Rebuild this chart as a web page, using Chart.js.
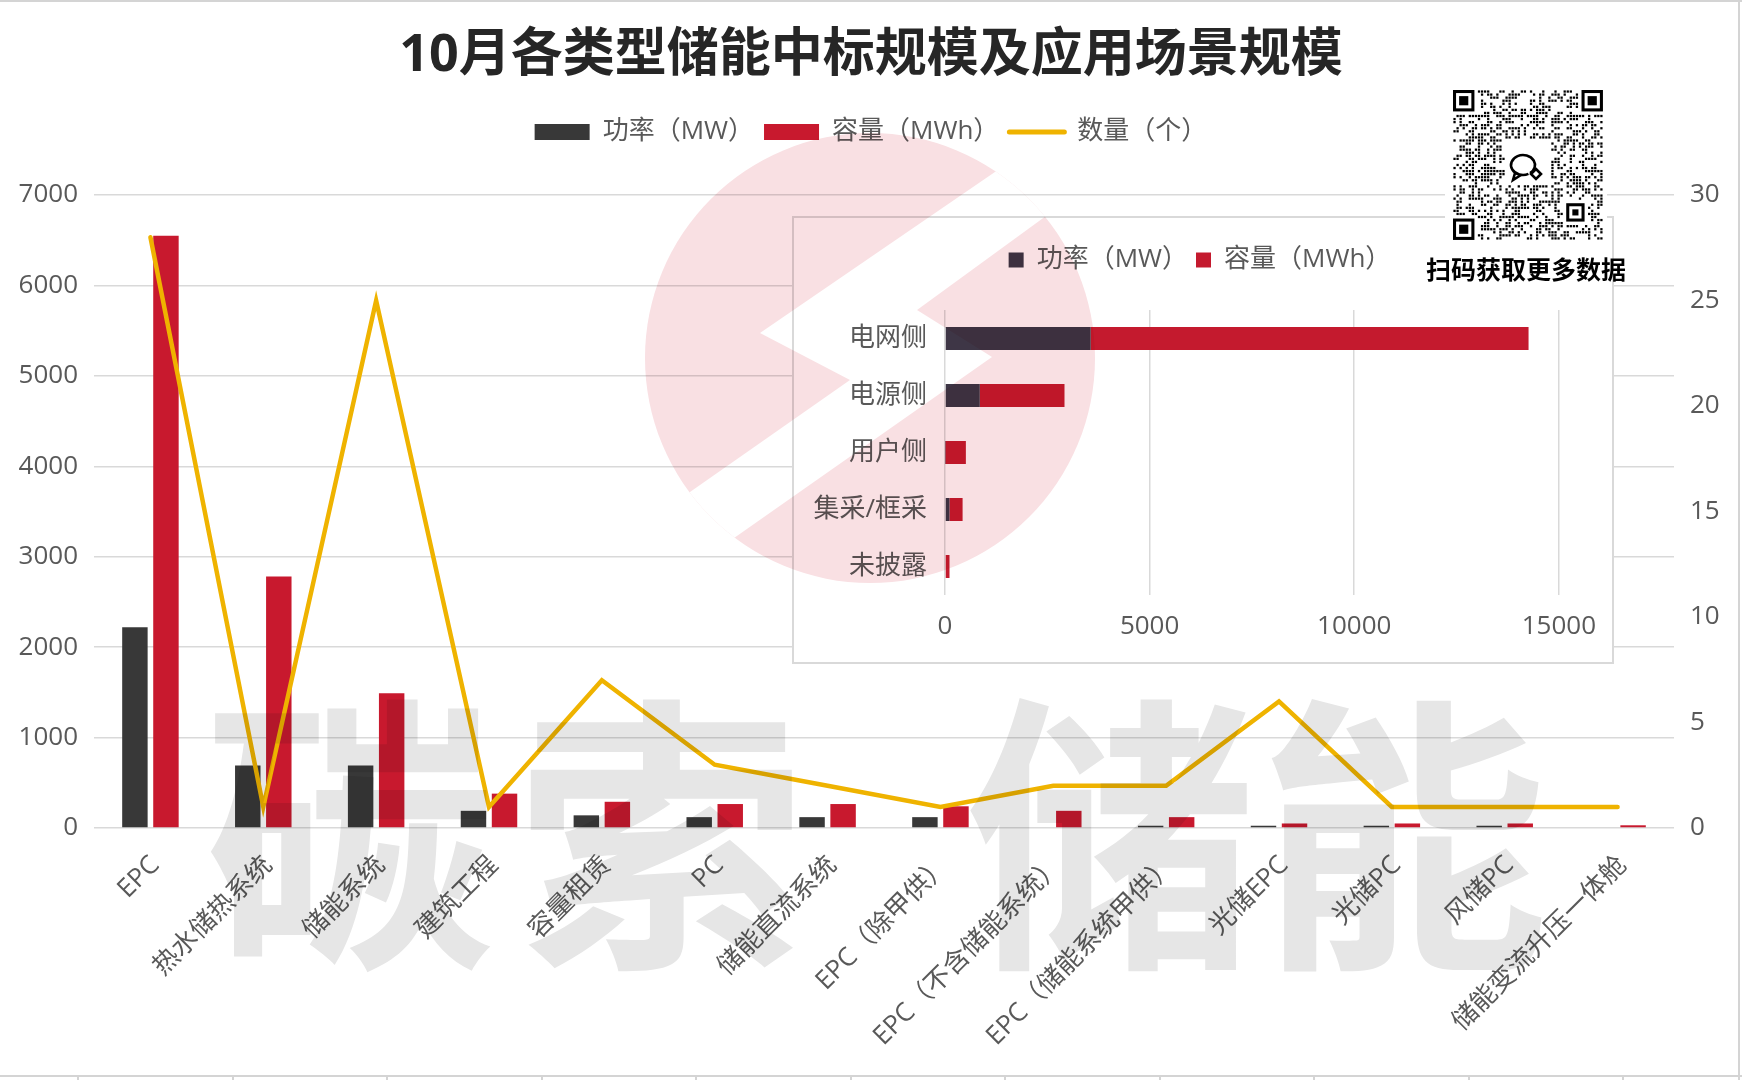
<!DOCTYPE html>
<html lang="zh-CN">
<head>
<meta charset="utf-8">
<title>10月各类型储能中标规模及应用场景规模</title>
<script src="https://cdn.jsdelivr.net/npm/chart.js@4.4.1/dist/chart.umd.min.js"></script>
<style>
  html, body { margin: 0; padding: 0; background: #fff; }
  body { width: 1742px; height: 1080px; position: relative; overflow: hidden; font-family: "Noto Sans CJK SC", sans-serif; }
  #main { position: absolute; left: 0; top: 0; }
  #insetBox { position: absolute; left: 792px; top: 216px; width: 822px; height: 448px; box-sizing: border-box; border: 2px solid #d9d9d9; background: #fff; }
  #inset { position: absolute; left: 0; top: 0; }
  #qr { position: absolute; left: 1445px; top: 85px; }
  #qrCaption { position: absolute; left: 1406px; top: 251px; width: 240px; text-align: center; font: bold 25px "Noto Sans CJK SC", sans-serif; color: #000; line-height: 34px; background: transparent; }
  .wm { position: absolute; font: bold 290px/290px "Noto Sans CJK SC", sans-serif; color: #e6e6e6; mix-blend-mode: multiply; pointer-events: none; width: 290px; text-align: center; }
  #logo { position: absolute; left: 0; top: 0; mix-blend-mode: multiply; pointer-events: none; }
  .frame { position: absolute; background: #d4d4d4; }
</style>
</head>
<body>
<canvas id="main" width="1742" height="1080"></canvas>
<div id="insetBox"><canvas id="inset" width="818" height="444"></canvas></div>
<canvas id="qr" width="162" height="162"></canvas>
<div id="qrCaption">扫码获取更多数据</div>
<div class="wm" style="left:205px; top:675px;">碳</div>
<div class="wm" style="left:516px; top:675px;">索</div>
<div class="wm" style="left:966px; top:675px;">储</div>
<div class="wm" style="left:1258px; top:675px;">能</div>
<canvas id="logo" width="1742" height="1080"></canvas>
<div class="frame" style="left:0; top:0; width:1742px; height:2px;"></div>
<div class="frame" style="left:1738px; top:0; width:2px; height:1080px;"></div>
<div class="frame" style="left:0; top:1075px; width:1742px; height:2px;"></div>
<div id="ticksBottom"></div>
<script>
// ---------------- data ----------------
const chartTitle = '10月各类型储能中标规模及应用场景规模';
const categories = ['EPC', '热水储热系统', '储能系统', '建筑工程', '容量租赁', 'PC', '储能直流系统',
  'EPC（除甲供）', 'EPC（不含储能系统）', 'EPC（储能系统甲供）', '光储EPC', '光储PC', '风储PC', '储能变流升压一体舱'];
const powerMW     = [2220, 690, 690, 190, 140, 120, 120, 120, 0, 25, 25, 25, 25, 0];
const capacityMWh = [6550, 2780, 1490, 380, 290, 265, 265, 240, 190, 120, 50, 50, 50, 30];
const countGe     = [28, 1, 25, 1, 7, 3, 2, 1, 2, 2, 6, 1, 1, 1];
const seriesNames = ['功率（MW）', '容量（MWh）', '数量（个）'];
const leftTickLabels  = ['0', '1000', '2000', '3000', '4000', '5000', '6000', '7000'];
const rightTickLabels = ['0', '5', '10', '15', '20', '25', '30'];

const insetCategories  = ['电网侧', '电源侧', '用户侧', '集采/框采', '未披露'];
const insetPowerMW     = [3560, 850, 10, 110, 0];
const insetCapacityMWh = [10700, 2070, 500, 320, 110];
const insetTickLabels  = ['0', '5000', '10000', '15000'];

// ---------------- styles ----------------
Chart.defaults.font.family = '"Open Sans", "Noto Sans CJK SC", sans-serif';
Chart.defaults.color = '#595959';
const GRID = '#d9d9d9';
const defaultGen = Chart.defaults.plugins.legend.labels.generateLabels;

new Chart(document.getElementById('main'), {
  type: 'bar',
  data: {
    labels: categories,
    datasets: [
      { label: seriesNames[0], data: powerMW, backgroundColor: '#383838', yAxisID: 'y', order: 1 },
      { label: seriesNames[1], data: capacityMWh, backgroundColor: '#c8192e', yAxisID: 'y', order: 1 },
      { type: 'line', label: seriesNames[2], data: countGe, borderColor: '#efb300', backgroundColor: '#efb300',
        borderWidth: 4.5, pointRadius: 0, tension: 0, yAxisID: 'y1', order: 0, borderCapStyle: 'round', borderJoinStyle: 'miter' }
    ]
  },
  options: {
    responsive: false, animation: false, devicePixelRatio: 1,
    layout: { padding: 0 },
    datasets: { bar: { barPercentage: 0.82, categoryPercentage: 0.55 } },
    scales: {
      x: {
        grid: { display: false }, border: { display: false },
        ticks: { autoSkip: false, maxRotation: 45, minRotation: 45, font: { size: 26 }, color: '#595959', padding: 14, labelOffset: 5 },
        afterFit(s) { s.height = 252; }
      },
      y: {
        position: 'left', min: 0, max: 7000,
        ticks: { stepSize: 1000, font: { size: 26 }, color: '#595959', padding: 16, callback: (v, i) => leftTickLabels[i] },
        grid: { color: GRID, lineWidth: 1.5, drawTicks: false }, border: { display: false },
        afterFit(s) { s.width = 94; }
      },
      y1: {
        position: 'right', min: 0, max: 30,
        ticks: { stepSize: 5, font: { size: 26 }, color: '#595959', padding: 16, callback: (v, i) => rightTickLabels[i] },
        grid: { display: false, drawTicks: false }, border: { display: false },
        afterFit(s) { s.width = 68; }
      }
    },
    plugins: {
      title: { display: true, text: chartTitle, font: { size: 52, weight: 'bold' }, color: '#262626', padding: { top: 25, bottom: 21.6 } },
      subtitle: { display: true, text: '', weight: 500, font: { size: 10 }, padding: { top: 28, bottom: 0 } },
      legend: {
        display: true, position: 'top',
        labels: {
          usePointStyle: true, pointStyleWidth: 55, boxHeight: 16, padding: 10,
          font: { size: 26 }, color: '#595959',
          sort: (a, b) => a.datasetIndex - b.datasetIndex,
          generateLabels(chart) {
            return defaultGen(chart).map(it => {
              if (it.datasetIndex < 2) { it.pointStyle = 'rect'; it.lineWidth = 0; }
              else { it.pointStyle = 'line'; it.lineWidth = 5; it.strokeStyle = '#efb300'; it.lineCap = 'round'; }
              return it;
            });
          }
        }
      },
      tooltip: { enabled: false }
    }
  }
});

new Chart(document.getElementById('inset'), {
  type: 'bar',
  data: {
    labels: insetCategories,
    datasets: [
      { label: seriesNames[0], data: insetPowerMW, backgroundColor: '#3e3646', xAxisID: 'x', yAxisID: 'y' },
      { label: seriesNames[1], data: insetCapacityMWh, backgroundColor: '#c41a2e', xAxisID: 'x', yAxisID: 'y' }
    ]
  },
  options: {
    indexAxis: 'y', responsive: false, animation: false, devicePixelRatio: 1,
    layout: { padding: { top: 21, right: 6, bottom: 0, left: 0 } },
    datasets: { bar: { barPercentage: 0.4, categoryPercentage: 1 } },
    scales: {
      x: {
        stacked: true, min: 0, max: 15000,
        ticks: { stepSize: 5000, font: { size: 26 }, color: '#595959', padding: 16, callback: (v, i) => insetTickLabels[i] },
        grid: { color: GRID, lineWidth: 1.5, drawTicks: false }, border: { display: false },
        afterFit(s) { s.height = 67; }
      },
      y: {
        stacked: true, grid: { display: false, drawTicks: false }, border: { display: false },
        ticks: { font: { size: 26 }, color: '#595959', padding: 18 },
        afterFit(s) { s.width = 151; }
      },
      spacerRight: {
        type: 'linear', position: 'right', display: true,
        ticks: { display: false }, grid: { display: false, drawTicks: false }, border: { display: false },
        afterFit(s) { s.width = 42; }
      }
    },
    plugins: {
      title: { display: false },
      subtitle: { display: true, text: '', weight: 500, font: { size: 10 }, padding: { top: 15, bottom: 0 } },
      legend: {
        display: true, position: 'top',
        labels: {
          usePointStyle: true, pointStyleWidth: 15, boxHeight: 15, padding: 8,
          font: { size: 26 }, color: '#595959',
          generateLabels(chart) {
            return defaultGen(chart).map(it => { it.pointStyle = 'rect'; it.lineWidth = 0; return it; });
          }
        }
      },
      tooltip: { enabled: false }
    }
  }
});

// ---------------- QR-like badge (decoration) ----------------
(function () {
  const c = document.getElementById('qr').getContext('2d');
  c.fillStyle = '#fff'; c.fillRect(0, 0, 162, 162);
  const N = 49, m = 3.06, ox = 8, oy = 5;
  function finder(col, row, s) {
    c.fillStyle = '#000'; c.fillRect(ox + col * m, oy + row * m, s * m, s * m);
    c.fillStyle = '#fff'; c.fillRect(ox + (col + 1) * m, oy + (row + 1) * m, (s - 2) * m, (s - 2) * m);
    c.fillStyle = '#000'; c.fillRect(ox + (col + 2) * m, oy + (row + 2) * m, (s - 4) * m, (s - 4) * m);
  }
  c.fillStyle = '#000';
  for (let i = 0; i < N; i++) {
    for (let j = 0; j < N; j++) {
      if ((i < 8 && j < 8) || (i > N - 9 && j < 8) || (i < 8 && j > N - 9)) continue;
      if (i >= 17 && i <= 31 && j >= 16 && j <= 30) continue;
      if (i >= 36 && i <= 43 && j >= 36 && j <= 43) continue;
      let h = Math.imul(i + 11, 374761393) ^ Math.imul(j + 7, 668265263);
      h = Math.imul(h ^ (h >>> 13), 1274126177);
      h = (h ^ (h >>> 16)) >>> 0;
      if (h % 100 < 46) c.fillRect(ox + i * m + 0.4, oy + j * m + 0.4, m * 0.74, m * 0.74);
    }
  }
  finder(0, 0, 7); finder(N - 7, 0, 7); finder(0, N - 7, 7);
  finder(37, 37, 6);
  c.strokeStyle = '#000'; c.lineWidth = 2.6;
  c.beginPath(); c.ellipse(78, 80, 12, 10, 0, 0.35 * Math.PI, 2.3 * Math.PI); c.stroke();
  c.beginPath(); c.moveTo(70, 88); c.lineTo(68, 95); c.lineTo(76, 90); c.stroke();
  c.beginPath(); c.moveTo(91, 84); c.lineTo(96, 89); c.lineTo(91, 94); c.lineTo(86, 89); c.closePath(); c.stroke();
})();

// ---------------- pink logo watermark (decoration) ----------------
(function () {
  const c = document.getElementById('logo').getContext('2d');
  c.save();
  c.beginPath(); c.arc(870, 358, 225, 0, 2 * Math.PI); c.clip();
  c.fillStyle = '#f9e0e3'; c.fillRect(600, 100, 560, 520);
  c.globalCompositeOperation = 'destination-out';
  c.beginPath();
  c.moveTo(1100, 100); c.lineTo(760, 333); c.lineTo(850, 380); c.lineTo(600, 555);
  c.lineTo(640, 604); c.lineTo(992, 357); c.lineTo(917, 310); c.lineTo(1150, 140);
  c.closePath(); c.fill();
  c.restore();
})();

// bottom cell ticks
(function () {
  const host = document.getElementById('ticksBottom');
  for (let x = 77; x < 1742; x += 154.5) {
    const d = document.createElement('div');
    d.className = 'frame';
    d.style.cssText = 'left:' + Math.round(x) + 'px; top:1075px; width:2px; height:5px;';
    host.appendChild(d);
  }
})();
</script>
</body>
</html>
